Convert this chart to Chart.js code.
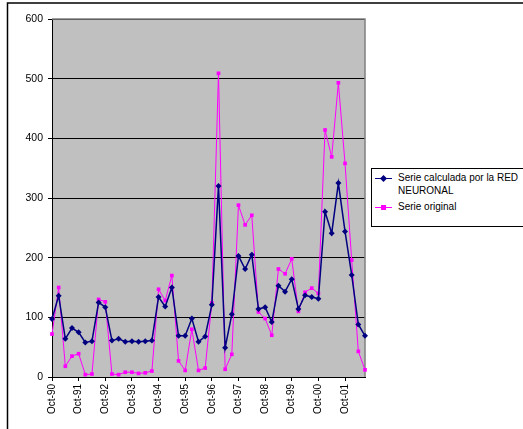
<!DOCTYPE html>
<html>
<head>
<meta charset="utf-8">
<script src="https://cdn.jsdelivr.net/npm/chart.js@4.4.0/dist/chart.umd.min.js"></script>
<style>
    body { margin: 0; background: #fff; }
    #wrap { position: relative; width: 523px; height: 429px; overflow: hidden; }
    #legend {
        position: absolute; left: 371px; top: 168px; width: 170px; height: 57px;
        border: 1px solid #000; background: #fff;
        font: 10px "Liberation Sans", Arial, sans-serif; color: #000;
    }
    .item { position: absolute; left: 0; }
    .line { position: absolute; left: 3px; width: 17px; height: 0; }
    .mark { position: absolute; width: 5px; height: 5px; }
    .txt { position: absolute; left: 26px; line-height: 13px; white-space: nowrap; }
</style>
</head>
<body>
<div id="wrap">
    <canvas id="chart" width="523" height="429"></canvas>
    <div id="legend">
        <div class="item" style="top:9px">
            <div class="line" style="border-top:1.5px solid #000080"></div>
            <div class="mark" style="left:9px;top:-2px;background:#000080;transform:rotate(45deg)"></div>
            <div class="txt" style="top:-7px">Serie calculada por la RED<br>NEURONAL</div>
        </div>
        <div class="item" style="top:38px">
            <div class="line" style="border-top:1px solid #ff00ff"></div>
            <div class="mark" style="left:9px;top:-2px;background:#ff00ff"></div>
            <div class="txt" style="top:-7px">Serie original</div>
        </div>
    </div>
</div>
<script>
// 
// Quarterly categories, Oct-90 .. Jul-02
// 
var categories = [
    "Oct-90", "Jan-91", "Apr-91", "Jul-91", "Oct-91", "Jan-92", "Apr-92", "Jul-92",
    "Oct-92", "Jan-93", "Apr-93", "Jul-93", "Oct-93", "Jan-94", "Apr-94", "Jul-94",
    "Oct-94", "Jan-95", "Apr-95", "Jul-95", "Oct-95", "Jan-96", "Apr-96", "Jul-96",
    "Oct-96", "Jan-97", "Apr-97", "Jul-97", "Oct-97", "Jan-98", "Apr-98", "Jul-98",
    "Oct-98", "Jan-99", "Apr-99", "Jul-99", "Oct-99", "Jan-00", "Apr-00", "Jul-00",
    "Oct-00", "Jan-01", "Apr-01", "Jul-01", "Oct-01", "Jan-02", "Apr-02", "Jul-02"
];

var serieRed = [
    97, 136, 64, 82, 75, 58, 60, 125, 117, 61,
    64, 59, 60, 59, 60, 61, 134, 118, 150, 69,
    69, 98, 59, 68, 121, 320, 49, 105, 203, 181,
    205, 114, 117, 92, 153, 143, 164, 114, 137, 134,
    131, 277, 241, 325, 244, 171, 88, 69
];

var serieOriginal = [
    72, 150, 18, 35, 39, 4, 5, 130, 126, 5,
    4, 8, 8, 6, 7, 10, 147, 128, 170, 27,
    11, 80, 11, 15, 124, 509, 13, 38, 288, 255,
    271, 109, 98, 70, 181, 173, 198, 110, 142, 149,
    140, 414, 369, 493, 358, 196, 43, 12
];

var yTicks = [0, 100, 200, 300, 400, 500, 600];

var fontFamily = "'Liberation Sans', Arial, sans-serif";

// 
// Excel-like frame: white chart area with border, gray plot area.
// 
var framePlugin = {
    id: 'frame',
    beforeDraw: function (chart) {
        var ctx = chart.ctx, a = chart.chartArea;
        ctx.save();
        ctx.fillStyle = '#fff';
        ctx.fillRect(0, 0, chart.width, chart.height);
        ctx.strokeStyle = '#000';
        ctx.lineWidth = 1.5;
        ctx.beginPath();
        ctx.moveTo(7.5, chart.height + 2);
        ctx.lineTo(7.5, 3);
        ctx.lineTo(chart.width + 2, 3);
        ctx.stroke();
        ctx.fillStyle = '#c0c0c0';
        ctx.fillRect(a.left, a.top, a.right - a.left, a.bottom - a.top);
        ctx.restore();
    },
    beforeDatasetsDraw: function (chart) {
        var ctx = chart.ctx, a = chart.chartArea;
        ctx.save();
        ctx.strokeStyle = '#808080';
        ctx.lineWidth = 1.5;
        ctx.beginPath();
        ctx.moveTo(a.left, a.top);
        ctx.lineTo(a.right, a.top);
        ctx.lineTo(a.right, a.bottom);
        ctx.stroke();
        ctx.restore();
    }
};

new Chart(document.getElementById('chart'), {
    type: 'line',
    data: {
        labels: categories,
        datasets: [
            {
                label: 'Serie calculada por la RED NEURONAL',
                data: serieRed,
                borderColor: '#000080',
                backgroundColor: '#000080',
                borderWidth: 1.5,
                pointStyle: 'rectRot',
                pointRadius: 3,
                pointBorderWidth: 0,
                tension: 0,
                clip: false,
                order: 1
            },
            {
                label: 'Serie original',
                data: serieOriginal,
                borderColor: '#ff00ff',
                backgroundColor: '#ff00ff',
                borderWidth: 1,
                pointStyle: 'rect',
                pointRadius: 2.6,
                pointBorderWidth: 0,
                tension: 0,
                clip: false,
                order: 2
            }
        ]
    },
    options: {
        responsive: false,
        animation: false,
        devicePixelRatio: 1,
        layout: { padding: { left: 8, top: 19, right: 158, bottom: 0 } },
        plugins: {
            legend: { display: false },
            tooltip: { enabled: false }
        },
        scales: {
            x: {
                offset: false,
                afterFit: function (scale) { scale.height = 52; },
                border: { color: '#000', width: 1 },
                grid: {
                    drawOnChartArea: false,
                    drawTicks: true,
                    tickLength: 4,
                    color: '#000'
                },
                ticks: {
                    autoSkip: false,
                    minRotation: 90,
                    maxRotation: 90,
                    padding: 3,
                    color: '#000',
                    font: { family: fontFamily, size: 10 },
                    callback: function (value, index) {
                        return index % 4 === 0 ? categories[index] : null;
                    }
                }
            },
            y: {
                min: yTicks[0],
                max: yTicks[yTicks.length - 1],
                afterFit: function (scale) { scale.width = 44; },
                afterBuildTicks: function (scale) {
                    scale.ticks = yTicks.map(function (v) { return { value: v }; });
                },
                border: { color: '#000', width: 1 },
                grid: {
                    color: '#000',
                    lineWidth: 1,
                    tickLength: 4
                },
                ticks: {
                    padding: 5,
                    color: '#000',
                    font: { family: fontFamily, size: 10.5 }
                }
            }
        }
    },
    plugins: [framePlugin]
});
</script>
</body>
</html>
